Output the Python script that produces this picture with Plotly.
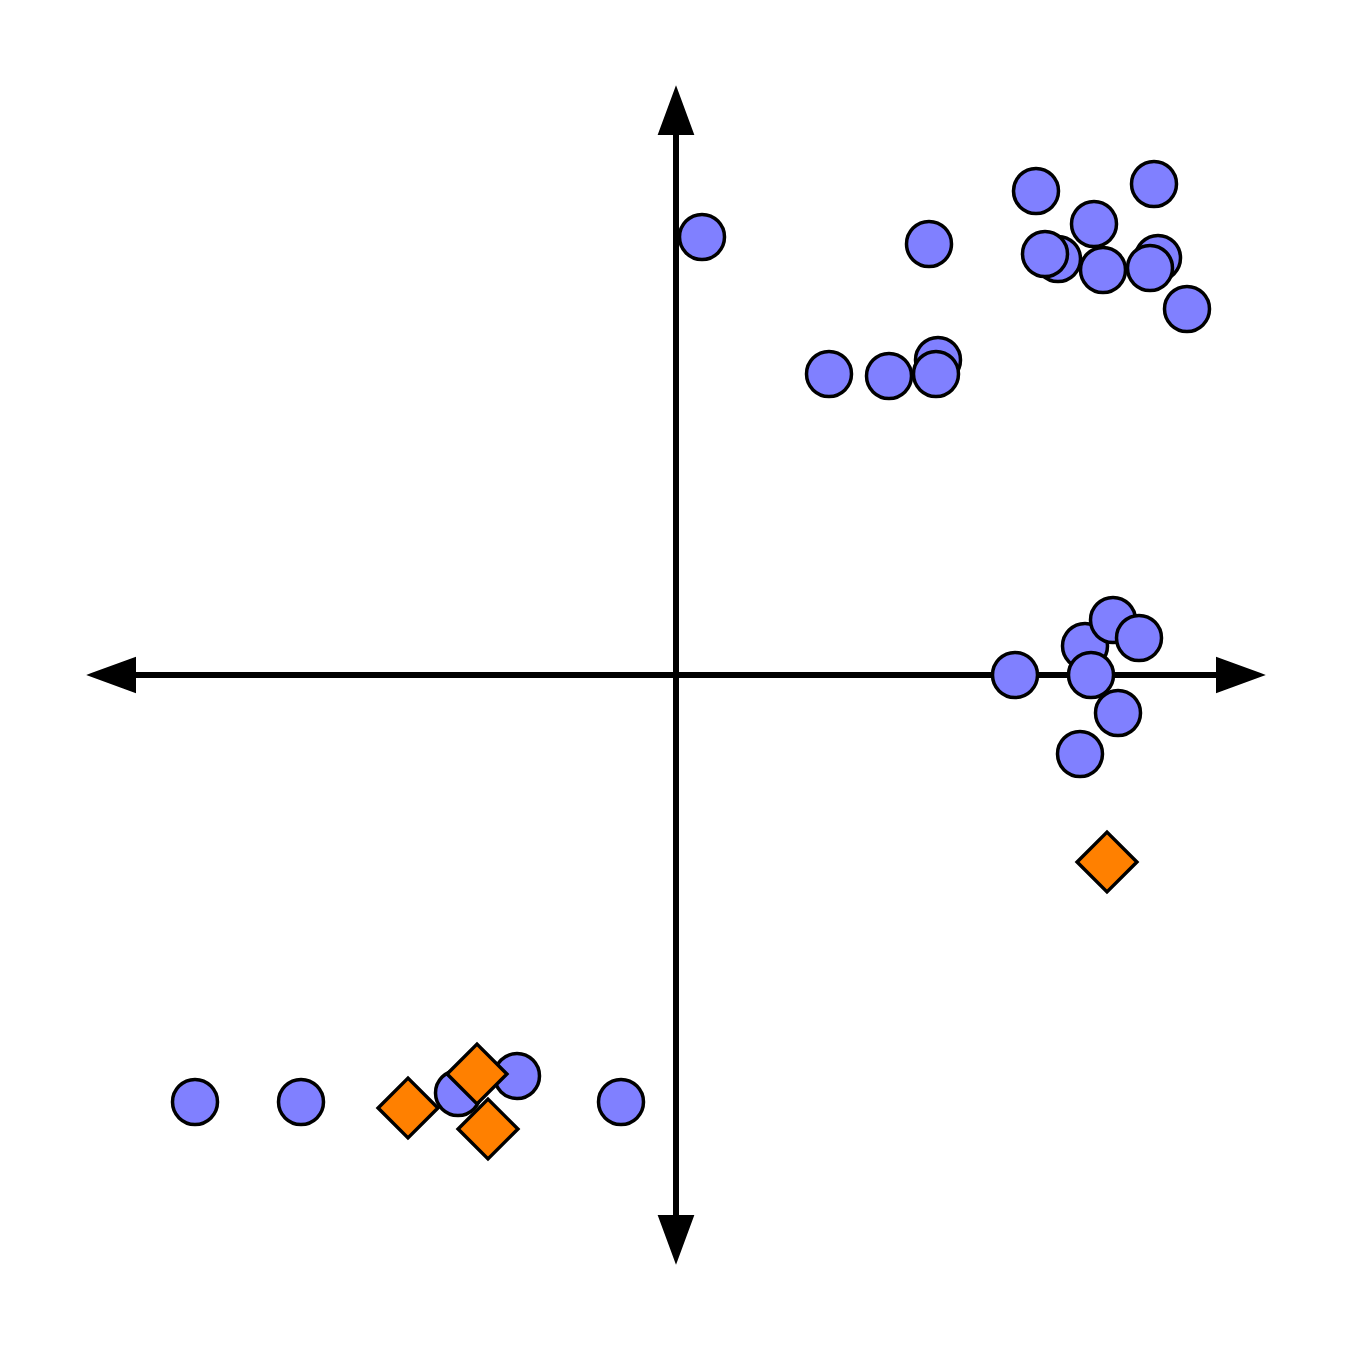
import plotly.graph_objects as go

# Data values (units: one unit = 100 px from origin in the reference)
circle_x = [0.26, 2.53, 3.82, 3.69, 4.18, 4.27, 4.82, 4.74, 3.60, 4.78, 5.11,
            1.53, 2.13, 2.62, 2.60,
            3.39, 4.09, 4.37, 4.63, 4.15, 4.42, 4.04,
            -4.81, -3.75, -2.18, -1.59, -0.55]
circle_y = [4.38, 4.31, 4.16, 4.21, 4.51, 4.05, 4.17, 4.07, 4.84, 4.91, 3.66,
            3.01, 2.99, 3.15, 3.01,
            0.00, 0.29, 0.55, 0.37, 0.00, -0.38, -0.79,
            -4.27, -4.27, -4.18, -4.01, -4.27]
diamond_x = [4.31, -2.68, -1.99, -1.88]
diamond_y = [-1.87, -4.33, -3.99, -4.54]

AX_MIN, AX_MAX = -5.84, 5.84
HEAD_LEN, HEAD_HALF = 0.42, 0.155

fig = go.Figure()
fig.add_trace(go.Scatter(x=circle_x, y=circle_y, mode="markers",
                         marker=dict(symbol="circle", size=45, color="#8080FF",
                                     line=dict(color="black", width=3.5)),
                         hoverinfo="skip"))
fig.add_trace(go.Scatter(x=diamond_x, y=diamond_y, mode="markers",
                         marker=dict(symbol="diamond", size=46, color="#FF8000",
                                     line=dict(color="black", width=3.5)),
                         hoverinfo="skip"))

shapes = []
shapes.append(dict(type="line", x0=AX_MIN + HEAD_LEN * 0.5, x1=AX_MAX - HEAD_LEN * 0.5, y0=0, y1=0,
                   line=dict(color="black", width=6), layer="below"))
shapes.append(dict(type="line", y0=AX_MIN + HEAD_LEN * 0.5, y1=AX_MAX - HEAD_LEN * 0.5, x0=0, x1=0,
                   line=dict(color="black", width=6), layer="below"))

def tri(p):
    return "M " + " L ".join(f"{a},{b}" for a, b in p) + " Z"

heads = [
    [(AX_MAX, 0), (AX_MAX - HEAD_LEN, HEAD_HALF), (AX_MAX - HEAD_LEN, -HEAD_HALF)],
    [(AX_MIN, 0), (AX_MIN + HEAD_LEN, HEAD_HALF), (AX_MIN + HEAD_LEN, -HEAD_HALF)],
    [(0, AX_MAX), (HEAD_HALF, AX_MAX - HEAD_LEN), (-HEAD_HALF, AX_MAX - HEAD_LEN)],
    [(0, AX_MIN), (HEAD_HALF, AX_MIN + HEAD_LEN), (-HEAD_HALF, AX_MIN + HEAD_LEN)],
]
for h in heads:
    shapes.append(dict(type="path", path=tri(h), fillcolor="black",
                       line=dict(color="black", width=4), layer="below"))

# page body has an 8px margin, so shift ranges to keep the origin at (676, 675)
fig.update_layout(
    width=1350, height=1350,
    margin=dict(l=0, r=0, t=0, b=0),
    paper_bgcolor="white", plot_bgcolor="white",
    showlegend=False,
    shapes=shapes,
    xaxis=dict(range=[-6.68, 6.82], visible=False, fixedrange=True),
    yaxis=dict(range=[-6.83, 6.67], visible=False, fixedrange=True),
)
fig.write_html("out.html")
